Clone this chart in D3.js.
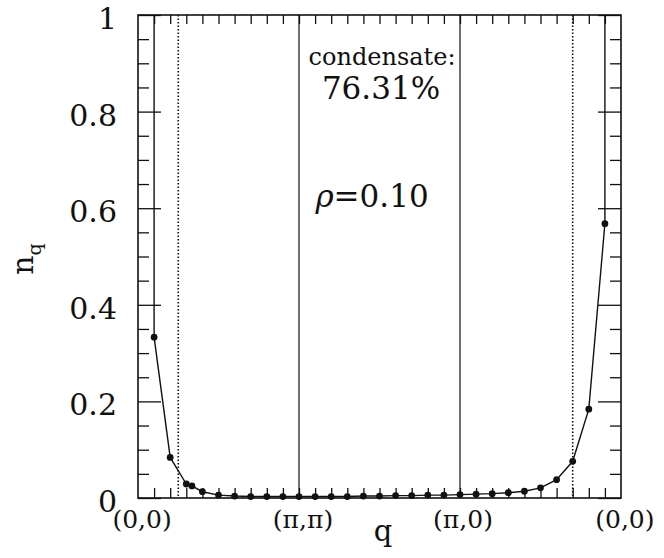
<!DOCTYPE html>
<html><head><meta charset="utf-8">
<script src="https://cdn.jsdelivr.net/npm/d3@7"></script>
<style>
body{margin:0;background:#fff}
svg{display:block}
text{font-family:"DejaVu Serif",serif;fill:#111}
</style>
</head><body>
<svg id="c" width="664" height="558"></svg>
<script>
// ---- data ----
// position along the path (0,0) -> (pi,pi) -> (pi,0) -> (0,0), in k-point steps
const qIndex = [0, 0, 1, 2, 2.35, 3, 4, 5, 6, 7, 8, 9, 10, 11, 12, 13, 14, 15, 16, 17, 18, 19, 20, 21, 22, 23, 24, 25, 26, 27, 28, 28];
// occupation n_q (first/last entries: condensate peak at q=(0,0), far off scale)
const nq = [20, 0.333, 0.084, 0.029, 0.025, 0.013, 0.006, 0.004, 0.003, 0.003, 0.003, 0.003, 0.003, 0.003, 0.003, 0.004, 0.004, 0.005, 0.005, 0.006, 0.006, 0.007, 0.008, 0.009, 0.011, 0.014, 0.021, 0.038, 0.076, 0.184, 0.568, 20];
const symLabels = ["(0,0)", "(\u03c0,\u03c0)", "(\u03c0,0)", "(0,0)"];
const symIndex = [0, 9, 19, 28];
const fermiIndex = [1.5, 26];
const yMajor = [0, 0.2, 0.4, 0.6, 0.8, 1];
const yMajorLabels = ["0", "0.2", "0.4", "0.6", "0.8", "1"];
const yMinor = [0.05, 0.1, 0.15, 0.25, 0.3, 0.35, 0.45, 0.5, 0.55, 0.65, 0.7, 0.75, 0.85, 0.9, 0.95];
const xTicks = d3.range(0, 29);
const condensateText = ["condensate:", "76.31%"];
const densityText = "0.10";

// ---- layout ----
const L = 138, R = 621, T = 15, B = 498;
const x = d3.scaleLinear().domain([-1, 29]).range([L, R]);
const y = d3.scaleLinear().domain([0, 1]).range([B, T]);
const svg = d3.select("#c");
const ink = "#111";

svg.append("defs").append("clipPath").attr("id", "clip")
  .append("rect").attr("x", L).attr("y", T).attr("width", R - L).attr("height", B - T);

// axes (inward ticks)
function styleAxis(g) {
  g.select(".domain").remove();
  g.selectAll(".tick line").attr("stroke", ink).attr("stroke-width", 1.3);
}
svg.append("g").attr("transform", `translate(${L},0)`)
  .call(d3.axisLeft(y).tickValues(yMinor).tickSize(-11).tickFormat(""))
  .call(styleAxis);
svg.append("g").attr("transform", `translate(${L},0)`)
  .call(d3.axisLeft(y).tickValues(yMajor).tickSize(-23).tickPadding(21)
    .tickFormat((d, i) => yMajorLabels[i]))
  .call(styleAxis)
  .call(g => g.selectAll("text").attr("font-size", 30).attr("dy", "0.45em")
    .attr("font-family", "DejaVu Serif").attr("fill", ink));
svg.append("g").attr("transform", `translate(${R},0)`)
  .call(d3.axisRight(y).tickValues(yMinor).tickSize(-11).tickFormat(""))
  .call(styleAxis);
svg.append("g").attr("transform", `translate(${R},0)`)
  .call(d3.axisRight(y).tickValues(yMajor).tickSize(-23).tickFormat(""))
  .call(styleAxis);
svg.append("g").attr("transform", `translate(0,${B})`)
  .call(d3.axisBottom(x).tickValues(xTicks).tickSize(-10).tickFormat(""))
  .call(styleAxis);
svg.append("g").attr("transform", `translate(0,${T})`)
  .call(d3.axisTop(x).tickValues(xTicks).tickSize(-9).tickFormat(""))
  .call(styleAxis);

// frame
svg.append("rect").attr("x", L).attr("y", T).attr("width", R - L).attr("height", B - T)
  .attr("fill", "none").attr("stroke", ink).attr("stroke-width", 1.6);

// symmetry-point separators
svg.selectAll("line.sym").data(symIndex.slice(1, 3)).join("line")
  .attr("x1", d => x(d)).attr("x2", d => x(d)).attr("y1", T).attr("y2", B)
  .attr("stroke", ink).attr("stroke-width", 1.2);
// Fermi crossings (dotted)
svg.selectAll("line.kf").data(fermiIndex).join("line")
  .attr("x1", d => x(d)).attr("x2", d => x(d)).attr("y1", T).attr("y2", B)
  .attr("stroke", ink).attr("stroke-width", 1.6).attr("stroke-dasharray", "1.4,2.1");

// data line + markers
const pts = qIndex.map((q, i) => ({q, n: nq[i]}));
svg.append("path").datum(pts).attr("clip-path", "url(#clip)")
  .attr("fill", "none").attr("stroke", ink).attr("stroke-width", 1.4)
  .attr("d", d3.line().x(d => x(d.q)).y(d => y(d.n)));
svg.selectAll("circle.pt").data(pts.filter(d => d.n <= 1)).join("circle")
  .attr("cx", d => x(d.q)).attr("cy", d => y(d.n)).attr("r", 3.4).attr("fill", ink);

// x labels
const dxLab = [-12, 4, 3, 20];
svg.selectAll("text.xl").data(symLabels).join("text")
  .attr("x", (d, i) => x(symIndex[i]) + dxLab[i]).attr("y", 528)
  .attr("text-anchor", "middle").attr("font-size", 25).text(d => d);

// axis titles
svg.append("text").attr("x", 383).attr("y", 541).attr("text-anchor", "middle")
  .attr("font-size", 29).text("q");
const yt = svg.append("text").attr("transform", "translate(33,259) rotate(-90)")
  .attr("text-anchor", "middle").attr("font-size", 30);
yt.append("tspan").text("n");
yt.append("tspan").attr("font-size", 19).attr("dy", 8).text("q");

// annotations
svg.append("text").attr("x", 382).attr("y", 65).attr("text-anchor", "middle")
  .attr("font-size", 24).text(condensateText[0]);
svg.append("text").attr("x", 381).attr("y", 99).attr("text-anchor", "middle")
  .attr("font-size", 31).text(condensateText[1]);
const rt = svg.append("text").attr("x", 372).attr("y", 207).attr("text-anchor", "middle")
  .attr("font-size", 31);
rt.append("tspan").attr("font-style", "italic").text("\u03c1");
rt.append("tspan").text("=" + densityText);
</script>
</body></html>
